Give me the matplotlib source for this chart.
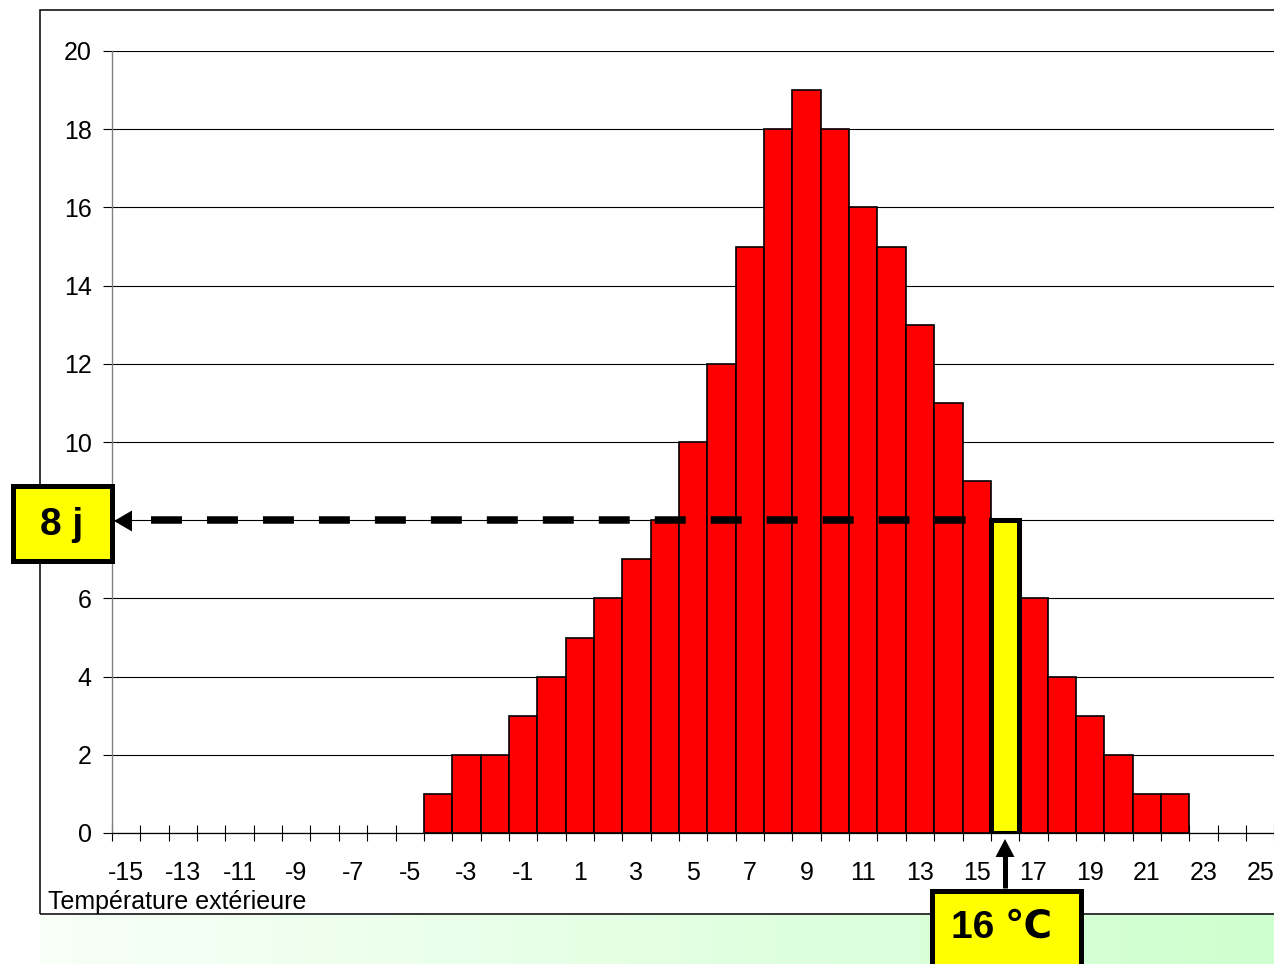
import numpy as np
import matplotlib
matplotlib.use("Agg")
import matplotlib.pyplot as plt
from matplotlib.patches import Rectangle, Polygon
from matplotlib.lines import Line2D

plt.rcParams['font.family'] = ['Liberation Sans', 'DejaVu Sans']
plt.rcParams['lines.scale_dashes'] = False

# ---- data ----
temps = list(range(-4, 23))
days = [1, 2, 2, 3, 4, 5, 6, 7, 8, 10, 12, 15, 18, 19, 18, 16, 15, 13, 11, 9,
        8, 6, 4, 3, 2, 1, 1]
x_labels = list(range(-15, 26, 2))
y_ticks = list(range(0, 21, 2))
highlight_temp = 16
highlight_days = 8
xlabel_text = "Température extérieure"
box_days_text = "8 j"
box_temp_text = "16 \u2103"

W, H = 1274, 964
fig = plt.figure(figsize=(W / 100, H / 100), dpi=100)


def fx(x):
    return x / W


def fy(y):
    return 1 - y / H


def P(x, y):
    return (fx(x), fy(y))


# light green gradient band at bottom
gax = fig.add_axes([fx(40), 0, fx(1274) - fx(40), (964 - 915) / H], zorder=-5)
grad = np.linspace(0, 1, 256)[None, :]
c0 = np.array([248, 255, 248]) / 255
c1 = np.array([206, 255, 206]) / 255
img = c0[None, None, :] * (1 - grad[..., None]) + c1[None, None, :] * grad[..., None]
gax.imshow(img, aspect='auto', extent=[0, 1, 0, 1])
gax.axis('off')

# main axes
ax_left, ax_right, ax_top, ax_bottom = 112, 1274.4, 51, 833
ax = fig.add_axes([fx(ax_left), fy(ax_bottom), fx(ax_right) - fx(ax_left),
                   fy(ax_top) - fy(ax_bottom)])
ax.set_xlim(-15.5, 25.5)
ax.set_ylim(0, 20)
ax.patch.set_alpha(0)

colors = ['#ffff00' if t == highlight_temp else '#ff0000' for t in temps]
bars = ax.bar(temps, days, width=1.0, color=colors, edgecolor='black',
              linewidth=1.2, zorder=3)
for b, t in zip(bars, temps):
    if t == highlight_temp:
        b.set_linewidth(3.6)
        b.set_zorder(6)

ax.set_axisbelow(True)
ax.yaxis.grid(True, color='black', linewidth=0.8)
ax.set_yticks(y_ticks)
# the label at the highlighted level is hidden under the "8 j" box
ax.set_yticklabels(['' if v == highlight_days else str(v) for v in y_ticks],
                   fontsize=18)
ax.tick_params(axis='y', direction='out', length=6.5, width=0.8, pad=8,
               color='black')

ax.set_xticks(np.arange(-15.5, 25.6, 1.0))
ax.set_xticklabels([])
ax.set_xticks(x_labels, minor=True)
ax.set_xticklabels([str(v) for v in x_labels], minor=True, fontsize=18)
ax.tick_params(axis='x', which='major', direction='inout', length=11,
               width=0.8, color='black')
ax.tick_params(axis='x', which='minor', length=0, pad=20.5)

for s in ['top', 'right']:
    ax.spines[s].set_visible(False)
ax.spines['left'].set_color('#808080')
ax.spines['left'].set_linewidth(1.0)
ax.spines['bottom'].set_color('black')
ax.spines['bottom'].set_linewidth(0.9)

# dashed guide line at the highlighted day count
dash_start = -15.5 + (151 - ax_left) / ((ax_right - ax_left) / 41)
ax.plot([dash_start, highlight_temp - 0.5], [highlight_days, highlight_days],
        color='black', linewidth=5.4, dashes=(22.3, 18.0),
        solid_capstyle='butt', dash_capstyle='butt', zorder=5)

# outer chart border
fig.add_artist(Rectangle(P(40, 914), fx(1400) - fx(40), fy(10) - fy(914),
                         transform=fig.transFigure, fill=False,
                         edgecolor='black', linewidth=1.1, zorder=1))

fig.text(fx(48), fy(909), xlabel_text, fontsize=18, ha='left',
         va='baseline')

# left arrowhead
fig.add_artist(Polygon([P(114, 521), P(132, 510.5), P(132, 531.5)],
                       closed=True, transform=fig.transFigure,
                       facecolor='black', edgecolor='none', zorder=10))

# "8 j" box
fig.add_artist(Rectangle(P(12.5, 560.5), fx(111.5) - fx(12.5),
                         fy(486.5) - fy(560.5), transform=fig.transFigure,
                         facecolor='#ffff00', edgecolor='black',
                         linewidth=3.6, zorder=10))
fig.text(fx(62), fy(535), box_days_text, fontsize=28, fontweight='bold',
         ha='center', va='baseline', zorder=11)

# up arrow
fig.add_artist(Line2D([fx(1005), fx(1005)], [fy(888), fy(856)],
                      transform=fig.transFigure, color='black',
                      linewidth=3.6, solid_capstyle='butt', zorder=10))
fig.add_artist(Polygon([P(1005, 839), P(995.5, 857), P(1014.5, 857)],
                       closed=True, transform=fig.transFigure,
                       facecolor='black', edgecolor='none', zorder=10))

# "16 C" box
fig.add_artist(Rectangle(P(931.5, 975), fx(1080.5) - fx(931.5),
                         fy(890.5) - fy(975), transform=fig.transFigure,
                         facecolor='#ffff00', edgecolor='black',
                         linewidth=3.6, zorder=10, clip_on=False))
fig.text(fx(1002), fy(938), box_temp_text, fontsize=28, fontweight='bold',
         ha='center', va='baseline', zorder=11)

fig.savefig('out.png', dpi=100)
